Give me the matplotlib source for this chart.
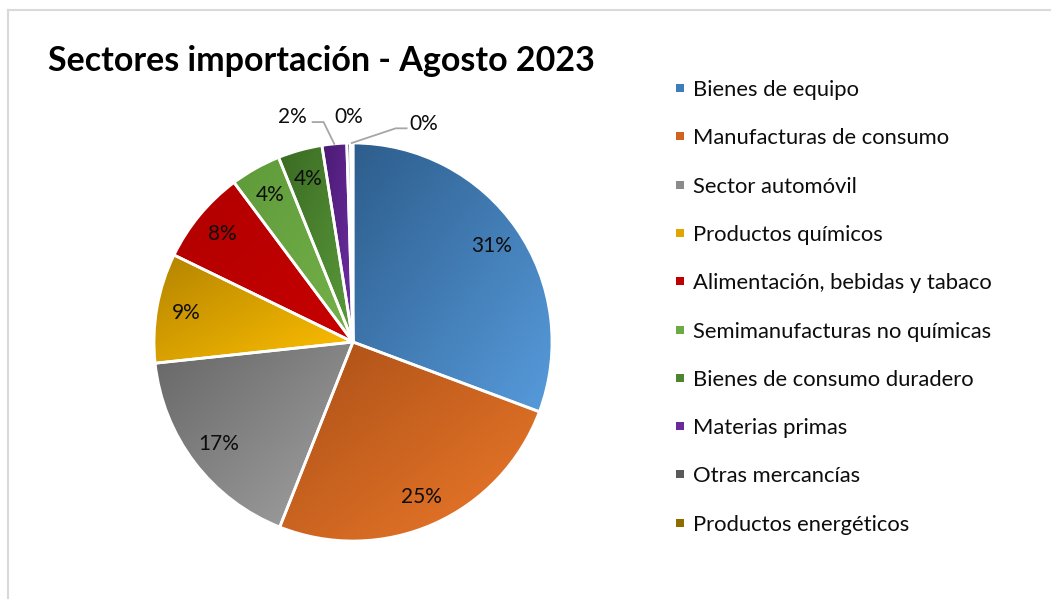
import numpy as np
import matplotlib
matplotlib.use("Agg")
import matplotlib.pyplot as plt
from matplotlib.colors import to_rgb
from matplotlib.lines import Line2D
from matplotlib.patches import Rectangle

# ---------------- data ----------------
title = "Sectores importación - Agosto 2023"
categories = [
    "Bienes de equipo",
    "Manufacturas de consumo",
    "Sector automóvil",
    "Productos químicos",
    "Alimentación, bebidas y tabaco",
    "Semimanufacturas no químicas",
    "Bienes de consumo duradero",
    "Materias primas",
    "Otras mercancías",
    "Productos energéticos",
]
shares = [30.7, 25.3, 17.3, 8.9, 7.6, 4.1, 3.6, 2.0, 0.3, 0.2]

light_colors = ["#579BDC", "#EE7A2A", "#A3A3A3", "#FFC000", "#C80000",
                "#74B24A", "#5C9C3C", "#7030A6", "#666666", "#9C7600"]
dark_colors = ["#2D5D8C", "#A94F17", "#666666", "#B38300", "#B00000",
               "#5F9A3A", "#3A6A22", "#4A1A72", "#404040", "#735800"]
legend_colors = ["#3F7DBA", "#D2631F", "#8A8A8A", "#E0A500", "#C00000",
                 "#6BAA45", "#4C8430", "#6A2A9A", "#5A5A5A", "#8E6C00"]

# ---------------- layout ----------------
W, H = 1051, 599
plt.rcParams["font.family"] = ["Lato", "DejaVu Sans"]
fig = plt.figure(figsize=(W / 100, H / 100), dpi=100)
fig.patch.set_facecolor("white")

cx, cy, R = 353, 342, 199
ax = fig.add_axes([(cx - R) / W, (H - cy - R) / H, 2 * R / W, 2 * R / H])

wedges, _ = ax.pie(shares, startangle=90, counterclock=False,
                   colors=light_colors, radius=1.0,
                   wedgeprops=dict(edgecolor="white", linewidth=2.0))

# gradient fill for each wedge (dark top-left -> light bottom-right)
for w, c0, c1 in zip(wedges, dark_colors, light_colors):
    ext = w.get_path().get_extents()
    x0, y0, x1, y1 = ext.x0, ext.y0, ext.x1, ext.y1
    n = 200
    gx, gy = np.meshgrid(np.linspace(0, 1, n), np.linspace(0, 1, n))
    t = (gx + gy) / 2.0  # image row 0 = top (origin upper)
    a, b = np.array(to_rgb(c0)), np.array(to_rgb(c1))
    img = a[None, None, :] * (1 - t[..., None]) + b[None, None, :] * t[..., None]
    im = ax.imshow(img, extent=(x0, x1, y0, y1), origin="upper",
                   interpolation="bilinear", zorder=1)
    im.set_clip_path(w)
    w.set_facecolor("none")
    w.set_zorder(2)

ax.set_xlim(-1, 1)
ax.set_ylim(-1, 1)
ax.set_aspect("auto")
ax.axis("off")

pct_color = "#0D0D0D"
pct_size = 15


def polar(ang, r):
    a = np.deg2rad(ang)
    return r * np.cos(a), r * np.sin(a)


labels = [f"{round(v):.0f}%" for v in shares]
outside = {7: (105.0, 1.17), 8: (91.0, 1.13), 9: (72.0, 1.15)}
leader_col = "#A6A6A6"
for i, w in enumerate(wedges):
    mid = (w.theta1 + w.theta2) / 2.0
    if i not in outside:
        x, y = polar(mid, 0.85)
        ax.text(x, y, labels[i], ha="center", va="center",
                fontsize=pct_size, color=pct_color, zorder=5)
    else:
        ang, r = outside[i]
        lx, ly = polar(ang, r)
        ax.text(lx, ly, labels[i], ha="center", va="center",
                fontsize=pct_size, color=pct_color, zorder=5, clip_on=False)
        ex, ey = polar(mid, 1.0)
        if i == 7:
            sx, sy = lx + 0.10, ly - 0.025
            ax.add_line(Line2D([sx, sx + 0.055, ex], [sy, sy, ey],
                               color=leader_col, lw=1.3, clip_on=False, zorder=4))
        elif i == 9:
            sx, sy = lx - 0.086, ly - 0.02
            ax.add_line(Line2D([sx, sx - 0.055, ex], [sy, sy, ey],
                               color=leader_col, lw=1.3, clip_on=False, zorder=4))

# title
fig.text(48 / W, 1 - 61 / H, title, ha="left", va="center",
         fontsize=24.5, fontweight="bold", color="black")

# legend (manual, rows evenly spaced)
leg_x_box, leg_x_txt, leg_y0, leg_dy = 676, 693, 88, 48.3
box = 8
for i, (name, col) in enumerate(zip(categories, legend_colors)):
    yc = leg_y0 + i * leg_dy
    fig.add_artist(Rectangle((leg_x_box / W, 1 - (yc + box / 2) / H),
                             box / W, box / H, transform=fig.transFigure,
                             facecolor=col, edgecolor="none"))
    fig.text(leg_x_txt / W, 1 - yc / H, name, ha="left", va="center_baseline",
             fontsize=15.8, color=pct_color)

# chart-area border (top and left visible)
fig.add_artist(Line2D([7.5 / W, 7.5 / W], [0, 1 - 10 / H], color="#D9D9D9",
                      lw=1.5, transform=fig.transFigure))
fig.add_artist(Line2D([7.5 / W, 1], [1 - 10 / H, 1 - 10 / H], color="#D9D9D9",
                      lw=1.5, transform=fig.transFigure))

fig.savefig("out.png", dpi=100, facecolor="white")
